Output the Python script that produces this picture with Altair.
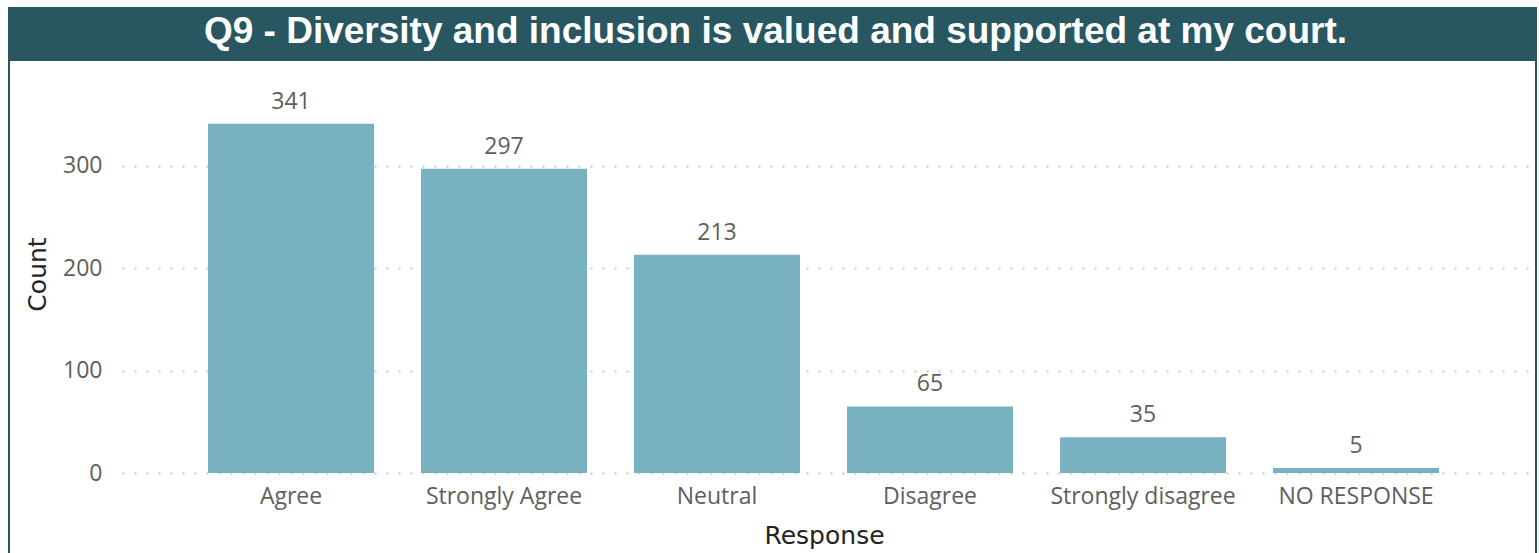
import altair as alt
import pandas as pd

categories = ["Agree", "Strongly Agree", "Neutral", "Disagree", "Strongly disagree", "NO RESPONSE"]
counts = [341, 297, 213, 65, 35, 5]
title_text = "Q9 - Diversity and inclusion is valued and supported at my court."

df = pd.DataFrame({"Response": categories, "Count": counts})
deco = pd.DataFrame({"a": [0]})

DARK = "#285761"
BAR = "#78B1BF"
GREY = "#605E5C"
LABEL_FONT = "Open Sans"
FS = 23

x_enc = alt.X(
    "Response:N",
    sort=categories,
    scale=alt.Scale(paddingInner=0.2207, paddingOuter=0.4155, align=0.486),
    axis=alt.Axis(
        title="Response", labelAngle=0, domain=False, ticks=False, tickSize=0,
        labelFont=LABEL_FONT, labelFontSize=FS, labelColor=GREY,
        labelBaseline="alphabetic", labelPadding=30, labelLimit=400, labelOverlap=False,
        titleFont="DejaVu Sans", titleFontSize=25, titleFontWeight="normal",
        titleColor="#252423", titleX=702, titleY=70, titleBaseline="alphabetic",
        titleAlign="center", grid=False,
    ),
)
y_enc = alt.Y(
    "Count:Q",
    scale=alt.Scale(domain=[0, 370], nice=False),
    axis=alt.Axis(
        title="Count", values=[0, 100, 200, 300], domain=False, ticks=False, tickSize=0,
        labelFont=LABEL_FONT, labelFontSize=FS, labelColor=GREY, labelPadding=20,
        labelBaseline="middle",
        grid=True, gridColor="#C8C8C8", gridDash=[2, 10], gridWidth=2,
        titleFont="DejaVu Sans", titleFontSize=25, titleFontWeight="normal",
        titleColor="#252423", titleX=-85, titleY=180, titleAngle=-90,
        titleBaseline="middle", titleAlign="center",
    ),
)

bars = alt.Chart(df).mark_bar(color=BAR).encode(x=x_enc, y=y_enc)
labels = alt.Chart(df).mark_text(
    font=LABEL_FONT, fontSize=FS, color=GREY, baseline="alphabetic", dy=-15
).encode(x=alt.X("Response:N", sort=categories), y="Count:Q", text="Count:Q")

title_bar = alt.Chart(deco).mark_rect(color=DARK).encode(
    x=alt.value(-114), x2=alt.value(1415), y=alt.value(-87), y2=alt.value(-33)
)
title = alt.Chart(deco).mark_text(
    text=title_text, font="Liberation Sans", fontSize=37, fontWeight="bold",
    color="white", align="center", baseline="alphabetic"
).encode(x=alt.value(653.5), y=alt.value(-51))
left_border = alt.Chart(deco).mark_rule(color=DARK, strokeWidth=2).encode(
    x=alt.value(-113), y=alt.value(-87), y2=alt.value(470)
)
right_border = alt.Chart(deco).mark_rule(color=DARK, strokeWidth=2).encode(
    x=alt.value(1414), y=alt.value(-87), y2=alt.value(470)
)

chart = alt.layer(bars, labels, title_bar, title, left_border, right_border).properties(
    width=1408, height=379,
    autosize=alt.AutoSizeParams(type="none"),
    padding={"left": 122, "top": 94, "right": 9, "bottom": 80},
    background="white",
).configure_view(stroke=None)

chart.save("out.html", embed_options={"renderer": "svg", "actions": False})
